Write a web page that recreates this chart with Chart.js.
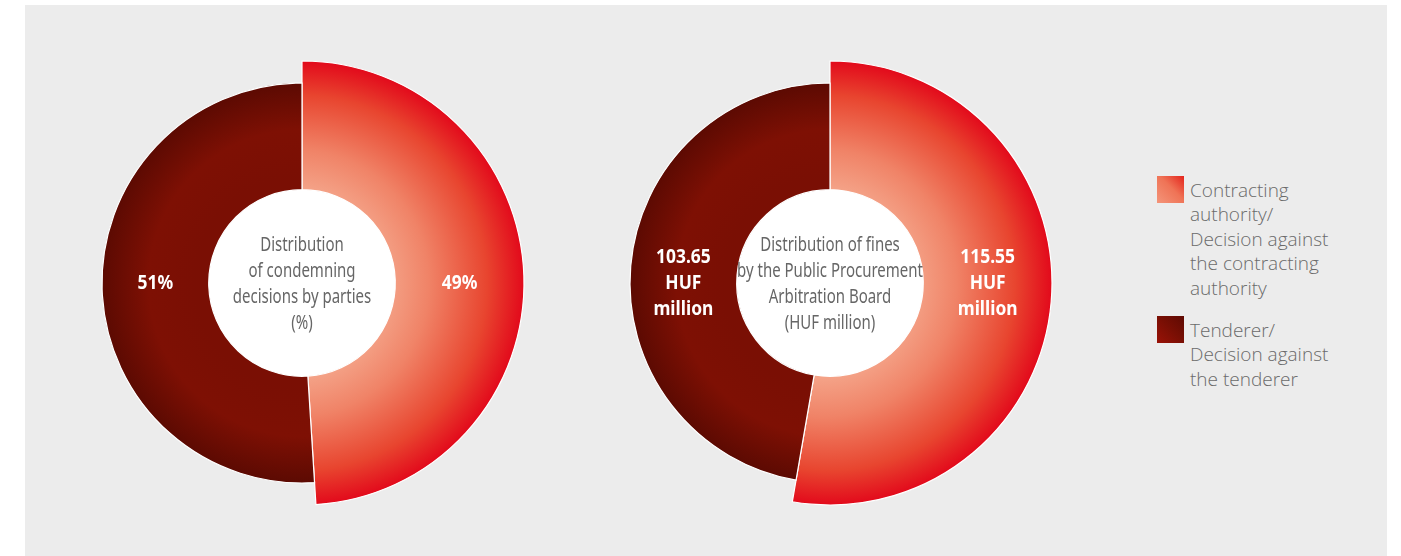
<!DOCTYPE html>
<html>
<head>
<meta charset="utf-8">
<script src="https://cdn.jsdelivr.net/npm/chart.js@4/dist/chart.umd.min.js"></script>
<style>
  html, body { margin: 0; padding: 0; background: #ffffff; width: 1401px; height: 556px; overflow: hidden; }
  #panel { position: absolute; left: 25px; top: 5px; width: 1362px; height: 551px; background: #ececec; }
  canvas { position: absolute; }
  #legend { position: absolute; left: 1157px; top: 178px; font-family: 'Open Sans', 'Lato', sans-serif; font-weight: 300; font-size: 19px; line-height: 24.4px; color: #6a6a6a; }
  .item { position: relative; padding-left: 33px; }
  .item + .item { margin-top: 18px; }
  .sw { position: absolute; left: 0; top: -2px; width: 27px; height: 27px; }
</style>
</head>
<body>
<div id="panel"></div>
<canvas id="c1" width="460" height="460" style="left:72px;top:53px;"></canvas>
<canvas id="c2" width="460" height="460" style="left:600px;top:53px;"></canvas>
<div id="legend"></div>
<script>
// ---- data ----
const categories = ["Contracting authority/ Decision against the contracting authority", "Tenderer/ Decision against the tenderer"];
const legendLines = [["Contracting", "authority/", "Decision against", "the contracting", "authority"], ["Tenderer/", "Decision against", "the tenderer"]];
const decisionsShare = [49, 51];          // % of condemning decisions
const finesHUF = [115.55, 103.65];        // HUF million
const decisionsLabels = [["49%"], ["51%"]];
const finesLabels = [["115.55", "HUF", "million"], ["103.65", "HUF", "million"]];
const centerTitle1 = ["Distribution", "of condemning", "decisions by parties", "(%)"];
const centerTitle2 = ["Distribution of fines", "by the Public Procurement", "Arbitration Board", "(HUF million)"];

// ---- style ----
const OUTER = 200, INNER = 107, RED_EXTRA = 22;
const COND = "'Noto Sans', 'Open Sans', sans-serif";
const TITLE_SQUEEZE = 0.75;
const LABEL_SQUEEZE = 0.87;

function segColor(ctx) {
  const chart = ctx.chart, a = chart.chartArea;
  if (!a) return '#e30613';
  const cx = (a.left + a.right) / 2, cy = (a.top + a.bottom) / 2;
  const c = chart.ctx;
  if (ctx.dataIndex === 0) {
    const g = c.createRadialGradient(cx - 10, cy, 95, cx, cy, OUTER + RED_EXTRA + 2);
    g.addColorStop(0, '#f4a287');
    g.addColorStop(0.3, '#f08367');
    g.addColorStop(0.72, '#e8452f');
    g.addColorStop(1, '#e2061a');
    return g;
  } else {
    const g = c.createRadialGradient(cx, cy, INNER, cx, cy, OUTER);
    g.addColorStop(0, '#7a0f04');
    g.addColorStop(0.5, '#7e1004');
    g.addColorStop(1, '#5c0a02');
    return g;
  }
}

const growPlugin = {
  id: 'grow',
  beforeDatasetDraw(chart, args) {
    const meta = args.meta;
    const base = meta.controller.outerRadius;
    meta.data.forEach((arc, i) => { arc.outerRadius = base + (i === 0 ? RED_EXTRA : 0); });
  }
};

function drawLines(c, lines, x, y, lh, sq) {
  lines.forEach((t, k) => {
    c.save();
    c.translate(x, y + (k - (lines.length - 1) / 2) * lh);
    c.scale(sq, 1);
    c.fillText(t, 0, 0);
    c.restore();
  });
}

function makeTextPlugin(title, labels) {
  return {
    id: 'texts',
    beforeDatasetsDraw(chart) {
      const meta = chart.getDatasetMeta(0), a0 = meta.data[0];
      if (!a0) return;
      const c = chart.ctx;
      c.save();
      c.fillStyle = '#ffffff';
      c.beginPath();
      c.arc(a0.x, a0.y, a0.innerRadius, 0, Math.PI * 2);
      c.fill();
      c.restore();
    },
    afterDatasetsDraw(chart) {
      const c = chart.ctx, meta = chart.getDatasetMeta(0);
      const a0 = meta.data[0];
      const cx = a0.x, cy = a0.y;
      c.save();
      c.textAlign = 'center';
      c.textBaseline = 'middle';
      c.fillStyle = '#666666';
      c.font = '20px ' + COND;
      drawLines(c, title, cx, cy + 1, 26, TITLE_SQUEEZE);
      c.fillStyle = '#ffffff';
      c.font = 'bold 20px ' + COND;
      meta.data.forEach((arc, i) => {
        const mid = (arc.startAngle + arc.endAngle) / 2;
        const r = (arc.innerRadius + arc.outerRadius) / 2;
        const x = arc.x + Math.sign(Math.cos(mid)) * r;
        drawLines(c, labels[i], x, arc.y, 26, LABEL_SQUEEZE);
      });
      c.restore();
    }
  };
}

function makeChart(id, values, title, labels) {
  return new Chart(document.getElementById(id), {
    type: 'doughnut',
    data: {
      labels: categories,
      datasets: [{
        data: values,
        backgroundColor: segColor,
        borderColor: '#ffffff',
        borderWidth: 1.2,
        borderJoinStyle: 'miter'
      }]
    },
    options: {
      responsive: false,
      animation: false,
      radius: OUTER,
      cutout: INNER,
      rotation: 0,
      layout: { padding: 0 },
      plugins: { legend: { display: false }, tooltip: { enabled: false } }
    },
    plugins: [growPlugin, makeTextPlugin(title, labels)]
  });
}

makeChart('c1', decisionsShare, centerTitle1, decisionsLabels);
makeChart('c2', finesHUF, centerTitle2, finesLabels);

// ---- legend ----
const legendEl = document.getElementById('legend');
const swatchBg = [
  'linear-gradient(45deg, #f4957a 0%, #ef7356 55%, #e4241c 100%)',
  'linear-gradient(45deg, #9a1207 0%, #7a0f04 50%, #5e0a02 100%)'
];
categories.forEach((cat, i) => {
  const d = document.createElement('div');
  d.className = 'item';
  d.title = cat;
  const sw = document.createElement('div');
  sw.className = 'sw';
  sw.style.background = swatchBg[i];
  d.appendChild(sw);
  legendLines[i].forEach(l => { const s = document.createElement('div'); s.textContent = l; d.appendChild(s); });
  legendEl.appendChild(d);
});
</script>
</body>
</html>
